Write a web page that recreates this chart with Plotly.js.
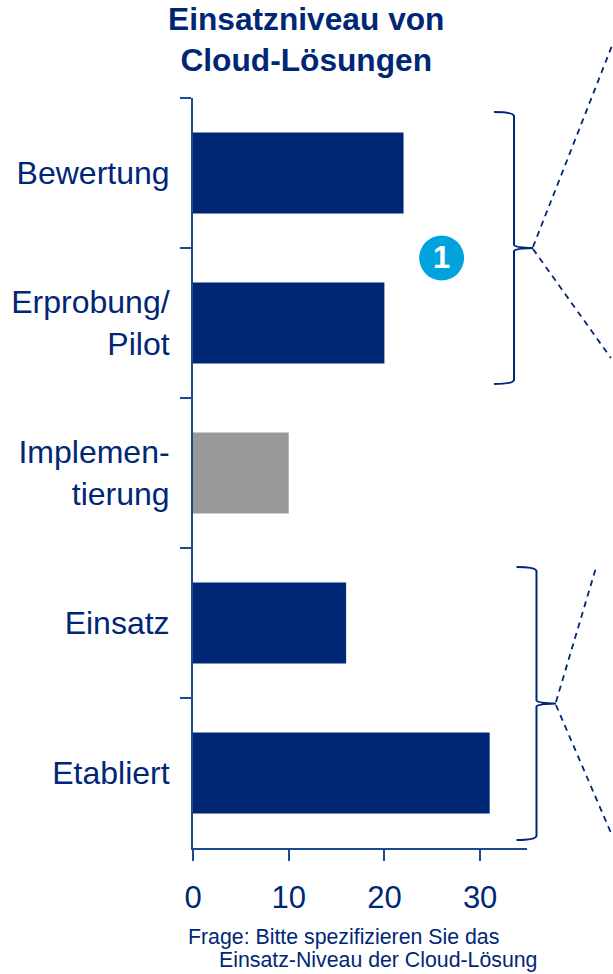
<!DOCTYPE html>
<html><head><meta charset="utf-8">
<script src="https://cdn.plot.ly/plotly-3.0.1.min.js"></script>
<style>html,body{margin:0;padding:0;background:#fff}#c{width:613px;height:974px}</style></head>
<body><div id="c"></div>
<script>
const categories = ["Bewertung", "Erprobung/<br>Pilot", "Implemen-<br>tierung", "Einsatz", "Etabliert"];
const values = [22, 20, 10, 16, 31];
const barColors = ["#002776", "#002776", "#999999", "#002776", "#002776"];
const xTicks = [0, 10, 20, 30];
const titleText = "<b>Einsatzniveau von<br>Cloud-Lösungen</b>";
const noteLine1 = "Frage: Bitte spezifizieren Sie das";
const noteLine2 = "Einsatz-Niveau der Cloud-Lösung";

const W = 613, H = 974;
const navy = "#002776", axisCol = "#1c4a90";
const font = "Liberation Sans, Arial, sans-serif";
const m = {l: 192.5, r: 86, t: 98, b: 126, pad: 0};
const px = x => (x - m.l) / (W - m.l - m.r);
const py = y => 1 - (y - m.t) / (H - m.t - m.b);
const P = (x, y) => px(x) + " " + py(y);

function brace(xs, xv, xt, y0, ym, y1) {
  return "M" + P(xs, y0) + " Q" + P(xv - 1, y0) + " " + P(xv, y0 + 4) +
    " L" + P(xv, ym - 3) + " Q" + P(xv + 1, ym - 0.5) + " " + P(xt, ym) +
    " Q" + P(xv + 1, ym + 0.5) + " " + P(xv, ym + 3) +
    " L" + P(xv, y1 - 4) + " Q" + P(xv - 1, y1) + " " + P(xs, y1);
}
const braceStyle = {type: "path", xref: "paper", yref: "paper", line: {color: navy, width: 2}};
const dashStyle = {type: "line", xref: "paper", yref: "paper", line: {color: navy, width: 1.8, dash: "6px,5px"}};
const seg = (a, b, c, d) => Object.assign({}, dashStyle, {x0: px(a), y0: py(b), x1: px(c), y1: py(d)});

const shapes = [
  Object.assign({}, braceStyle, {path: brace(494, 514, 533, 112, 248, 384)}),
  Object.assign({}, braceStyle, {path: brace(516.5, 536.5, 556, 567, 703.5, 840)}),
  seg(533, 247, 612, 46), seg(533, 249, 611, 358),
  seg(556, 702, 596, 568), seg(556, 705, 612, 835),
  {type: "circle", xref: "paper", yref: "paper", x0: px(419), x1: px(464), y0: py(235.5), y1: py(280.5),
   fillcolor: "#00A3DE", line: {width: 0}}
];

const note = (t, x, y) => ({text: t, xref: "paper", yref: "paper", x: px(x), y: py(y), xanchor: "left", yanchor: "middle",
  showarrow: false, font: {family: font, size: 21.3, color: navy}});

Plotly.newPlot("c", [{
  type: "bar", orientation: "h", y: categories, x: values, width: 0.54,
  marker: {color: barColors, line: {width: 0}}, hoverinfo: "skip"
}], {
  width: W, height: H, margin: m, showlegend: false,
  paper_bgcolor: "#fff", plot_bgcolor: "#fff",
  xaxis: {range: [0, 34.9], tickmode: "array", tickvals: xTicks, ticks: "outside", ticklen: 11, tickwidth: 2,
    ticklabelstandoff: 10,
    tickcolor: axisCol, showline: true, linecolor: axisCol, linewidth: 2, showgrid: false, zeroline: false,
    tickfont: {family: font, size: 31, color: navy}},
  yaxis: {type: "category", range: [4.5, -0.5], tickson: "boundaries", ticks: "outside", ticklen: 11, tickwidth: 2,
    ticklabelstandoff: 15,
    tickcolor: axisCol, showline: true, linecolor: axisCol, linewidth: 2, showgrid: false, zeroline: false,
    tickfont: {family: font, size: 32, color: navy}},
  shapes: shapes,
  annotations: [
    {text: titleText, xref: "paper", yref: "paper", x: px(305.5), y: py(39.5), xanchor: "center", yanchor: "middle",
     showarrow: false, font: {family: font, size: 31.7, color: navy}},
    {text: "<b>1</b>", xref: "paper", yref: "paper", x: px(441.5), y: py(257.5), xanchor: "center", yanchor: "middle",
     showarrow: false, font: {family: font, size: 31, color: "#fff"}},
    note(noteLine1, 185, 937), note(noteLine2, 217, 960)
  ]
}, {displayModeBar: false, staticPlot: true});
</script></body></html>
